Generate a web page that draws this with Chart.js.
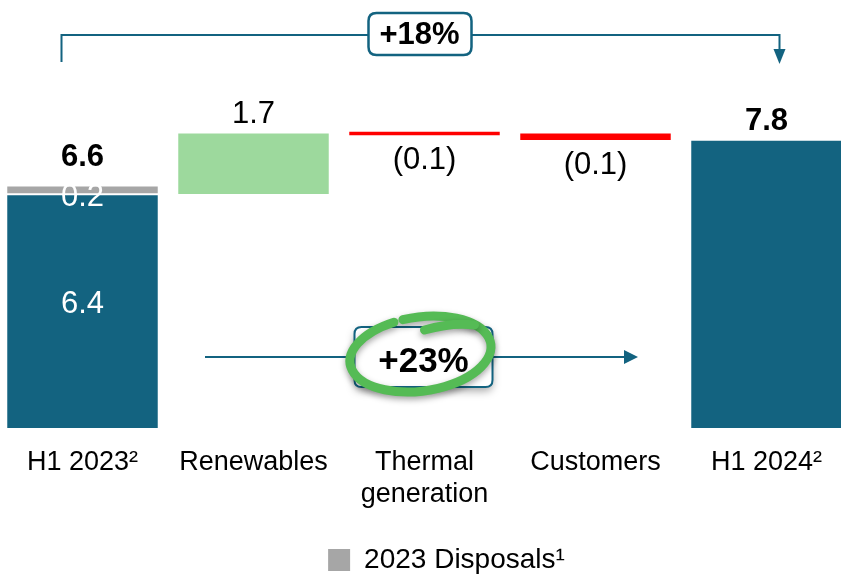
<!DOCTYPE html>
<html>
<head>
<meta charset="utf-8">
<script src="https://cdn.jsdelivr.net/npm/chart.js@4.4.1/dist/chart.umd.min.js"></script>
<style>
    html, body { margin: 0; padding: 0; background: #fff; overflow: hidden; }
    #wrap { position: absolute; left: -3px; top: 0; width: 855px; height: 575px; }
</style>
</head>
<body>
<div id="wrap"><canvas id="bridgeChart"></canvas></div>
<script>
// categories and values
const categories = [['H1 2023²'], 'Renewables', ['Thermal', 'generation'], 'Customers', ['H1 2024²']];
const baseBars = [[0, 6.36], null, null, null, [0, 7.85]];
const disposals = [[6.42, 6.6], null, null, null, null];
const increases = [null, [6.4, 8.05], null, null, null];
const decreases = [null, null, [8.0, 8.1], [7.87, 8.05], null];
const topLabels = ['6.6', '1.7', '(0.1)', '(0.1)', '7.8'];
const baseInner = ['6.4', null, null, null, null];
const disposalInner = ['0.2', null, null, null, null];

const TEAL = '#136380';
const FONT = '"Liberation Sans", Arial, sans-serif';

function roundRect(ctx, x, y, w, h, r) {
    ctx.beginPath();
    ctx.moveTo(x + r, y);
    ctx.lineTo(x + w - r, y);
    ctx.quadraticCurveTo(x + w, y, x + w, y + r);
    ctx.lineTo(x + w, y + h - r);
    ctx.quadraticCurveTo(x + w, y + h, x + w - r, y + h);
    ctx.lineTo(x + r, y + h);
    ctx.quadraticCurveTo(x, y + h, x, y + h - r);
    ctx.lineTo(x, y + r);
    ctx.quadraticCurveTo(x, y, x + r, y);
    ctx.closePath();
}

function arrowHead(ctx, tipX, tipY, dir, len, half) {
    ctx.beginPath();
    if (dir === 'down') {
        ctx.moveTo(tipX, tipY);
        ctx.lineTo(tipX - half, tipY - len);
        ctx.lineTo(tipX + half, tipY - len);
    } else {
        ctx.moveTo(tipX, tipY);
        ctx.lineTo(tipX - len, tipY - half);
        ctx.lineTo(tipX - len, tipY + half);
    }
    ctx.closePath();
    ctx.fill();
}

const labelPlugin = {
    id: 'bridgeLabels',
    afterLayout(chart) {
        // nudge the legend right and down, like the slide
        chart.legend.left += 22;
        chart.legend.right += 22;
        chart.legend.top += 9;
        chart.legend.bottom += 9;
    },
    afterDatasetsDraw(chart) {
        const ctx = chart.ctx;
        const metaBase = chart.getDatasetMeta(0);
        const metaDisp = chart.getDatasetMeta(1);
        const metaInc = chart.getDatasetMeta(2);
        const metaDec = chart.getDatasetMeta(3);
        ctx.save();
        ctx.textAlign = 'center';
        ctx.textBaseline = 'middle';
        ctx.fillStyle = '#000';

        // labels above / below the bars
        categories.forEach((c, i) => {
            let bar;
            if (disposals[i]) {
                bar = metaDisp.data[i];
                ctx.font = 'bold 31px ' + FONT;
                ctx.fillText(topLabels[i], bar.x, bar.y - 29);
            } else if (increases[i]) {
                bar = metaInc.data[i];
                ctx.font = '31px ' + FONT;
                ctx.fillText(topLabels[i], bar.x, bar.y - 19);
            } else if (decreases[i]) {
                bar = metaDec.data[i];
                ctx.font = '31px ' + FONT;
                ctx.fillText(topLabels[i], bar.x, Math.max(bar.y, bar.base) + 25);
            } else if (baseBars[i]) {
                bar = metaBase.data[i];
                ctx.font = 'bold 31px ' + FONT;
                ctx.fillText(topLabels[i], bar.x, bar.y - 19);
            }
        });

        // white labels inside the first bar
        ctx.font = '31px ' + FONT;
        ctx.fillStyle = '#fff';
        baseInner.forEach((t, i) => {
            if (!t) return;
            const bar = metaBase.data[i];
            ctx.fillText(t, bar.x, bar.y + (bar.base - bar.y) * 0.47);
        });
        disposalInner.forEach((t, i) => {
            if (!t) return;
            const bar = metaDisp.data[i];
            ctx.fillText(t, bar.x, bar.base + 4);
        });
        ctx.restore();
    },
    afterDraw(chart) {
        const ctx = chart.ctx;
        const x = chart.scales.x;
        const x0 = x.getPixelForValue(0);
        const x2 = x.getPixelForValue(2);
        const x4 = x.getPixelForValue(4);
        ctx.save();
        ctx.textAlign = 'center';
        ctx.textBaseline = 'middle';

        // top bracket +18%
        ctx.strokeStyle = TEAL;
        ctx.fillStyle = TEAL;
        ctx.lineWidth = 2;
        ctx.beginPath();
        ctx.moveTo(x0 - 21, 62);
        ctx.lineTo(x0 - 21, 35);
        ctx.lineTo(x4 + 13, 35);
        ctx.lineTo(x4 + 13, 50);
        ctx.stroke();
        arrowHead(ctx, x4 + 13, 64, 'down', 15, 6);

        roundRect(ctx, x2 - 56, 13, 103, 42, 8);
        ctx.fillStyle = '#fff';
        ctx.fill();
        ctx.lineWidth = 2.5;
        ctx.stroke();
        ctx.fillStyle = '#000';
        ctx.font = 'bold 31px ' + FONT;
        ctx.fillText('+18%', x2 - 5, 35);

        // middle arrow +23%
        ctx.strokeStyle = TEAL;
        ctx.fillStyle = TEAL;
        ctx.lineWidth = 2;
        ctx.beginPath();
        ctx.moveTo(208, 357);
        ctx.lineTo(628, 357);
        ctx.stroke();
        arrowHead(ctx, 641, 357, 'right', 14, 7);

        ctx.save();
        ctx.shadowColor = 'rgba(0,0,0,0.35)';
        ctx.shadowBlur = 8;
        ctx.shadowOffsetY = 4;
        roundRect(ctx, x2 - 70, 327, 138, 60, 7);
        ctx.fillStyle = '#fff';
        ctx.fill();
        ctx.restore();
        roundRect(ctx, x2 - 70, 327, 138, 60, 7);
        ctx.strokeStyle = TEAL;
        ctx.lineWidth = 2;
        ctx.stroke();

        // hand drawn green ring
        ctx.save();
        ctx.shadowColor = 'rgba(0,0,0,0.35)';
        ctx.shadowBlur = 6;
        ctx.shadowOffsetY = 3;
        ctx.strokeStyle = '#55BB55';
        ctx.lineWidth = 9;
        ctx.lineCap = 'round';
        ctx.beginPath();
        ctx.ellipse(x2 - 4, 354, 71, 37, -0.14, -1.75, 4.4);
        ctx.stroke();
        ctx.beginPath();
        ctx.moveTo(x2 + 0, 330);
        ctx.quadraticCurveTo(x2 + 28, 322, x2 + 50, 325);
        ctx.stroke();
        ctx.restore();

        ctx.fillStyle = '#000';
        ctx.font = 'bold 35px ' + FONT;
        ctx.fillText('+23%', x2 - 1, 362);
        ctx.restore();
    }
};

const ctx = document.getElementById('bridgeChart').getContext('2d');
new Chart(ctx, {
    type: 'bar',
    data: {
        labels: categories,
        datasets: [
            {
                label: 'Base',
                data: baseBars,
                backgroundColor: TEAL,
                grouped: false
            },
            {
                label: '2023 Disposals¹',
                data: disposals,
                backgroundColor: '#A6A6A6',
                grouped: false
            },
            {
                label: 'Increase',
                data: increases,
                backgroundColor: '#9DD99D',
                grouped: false
            },
            {
                label: 'Decrease',
                data: decreases,
                backgroundColor: '#FF0000',
                grouped: false
            }
        ]
    },
    options: {
        responsive: true,
        maintainAspectRatio: false,
        animation: false,
        barPercentage: 0.88,
        categoryPercentage: 1,
        layout: { padding: 0 },
        plugins: {
            tooltip: { enabled: false },
            legend: {
                position: 'bottom',
                labels: {
                    filter: item => item.datasetIndex === 1,
                    boxWidth: 22,
                    boxHeight: 22,
                    padding: 2,
                    color: '#000',
                    font: { family: FONT, size: 28 }
                }
            }
        },
        scales: {
            x: {
                grid: { display: false, drawTicks: false },
                border: { display: false },
                afterFit(scale) {
                    scale.height = 107;
                },
                ticks: {
                    padding: 18,
                    color: '#000',
                    maxRotation: 0,
                    autoSkip: false,
                    font: { family: FONT, size: 27 }
                }
            },
            y: {
                display: false,
                min: 0,
                max: 11.7
            }
        }
    },
    plugins: [labelPlugin]
});
</script>
</body>
</html>
